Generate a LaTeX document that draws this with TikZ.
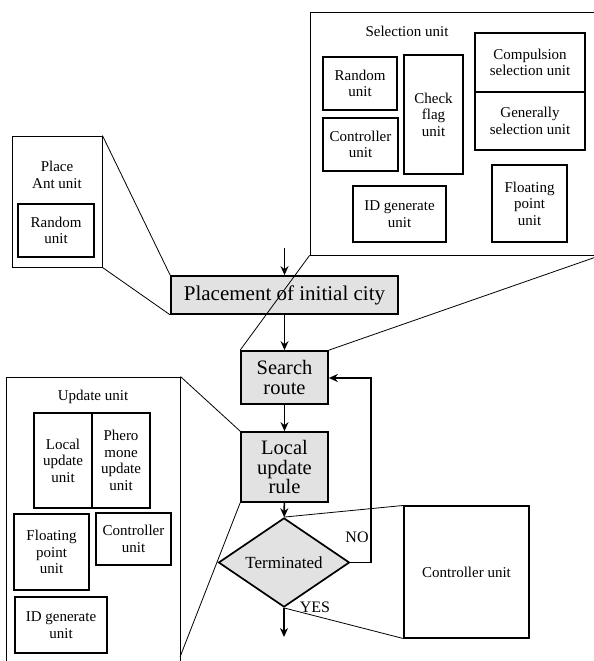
\documentclass[tikz,border=0pt]{standalone}
\usepackage{fontspec}
\setmainfont{Liberation Serif}
\usepackage{tikz}
\definecolor{shade}{RGB}{226,226,226}
\usetikzlibrary{shapes.geometric,arrows.meta}

\tikzset{
  frame/.style={draw, line width=0.9pt, inner sep=0pt},
  unitbox/.style={draw, line width=1.2pt, inner sep=0pt, align=center,
    font=\fontsize{15}{16.5}\selectfont},
  stage/.style={draw, fill=shade, line width=1.7pt, inner sep=0pt, align=center,
    font=\fontsize{20.5}{19.5}\selectfont},
  flow/.style={line width=1.6pt, -{Stealth[length=9pt,width=8pt]}},
  zoomline/.style={line width=0.8pt}
}

\begin{document}
\begin{tikzpicture}[x=1pt,y=-1pt]
        \clip (0,0) rectangle (594,661);

        \node[frame, minimum width=290pt, minimum height=243pt] (sel) at (455,133.5) {};
        \node[font=\fontsize{15}{16}\selectfont] (seltitle) at (407,31) {Selection unit};
        \node[unitbox, minimum width=74pt, minimum height=53pt] (selrand) at (360,83.5) {Random\\unit};
        \node[unitbox, minimum width=75pt, minimum height=53pt] (selctrl) at (360.5,144.5) {Controller\\unit};
        \node[unitbox, minimum width=59pt, minimum height=119pt] (selflag) at (433.5,114.5) {Check\\flag\\unit};
        \node[unitbox, minimum width=110pt, minimum height=59pt] (selcomp) at (530,62.5) {Compulsion\\selection unit};
        \node[unitbox, minimum width=110pt, minimum height=58pt] (selgen) at (530,121) {Generally\\selection unit};
        \node[unitbox, minimum width=75pt, minimum height=77pt] (selfloat) at (529.5,203.5) {Floating\\point\\unit};
        \node[unitbox, minimum width=93pt, minimum height=56pt] (selid) at (399.5,214) {ID generate\\unit};

        \node[frame, minimum width=90pt, minimum height=131pt] (ant) at (57,201.5) {};
        \node[align=center, font=\fontsize{15}{16.5}\selectfont] (anttitle) at (57,175) {Place\\Ant unit};
        \node[unitbox, minimum width=76pt, minimum height=53pt] (antrand) at (56,230.5) {Random\\unit};

        \node[frame, minimum width=174pt, minimum height=289pt] (upd) at (93,521.5) {};
        \node[font=\fontsize{15}{16}\selectfont] (updtitle) at (93,397) {Update unit};
        \node[unitbox, minimum width=58pt, minimum height=95pt] (updlocal) at (63,460.5) {Local\\update\\unit};
        \node[unitbox, minimum width=58pt, minimum height=95pt] (updphero) at (121,460.5) {Phero\\mone\\update\\unit};
        \node[unitbox, minimum width=75pt, minimum height=76pt] (updfloat) at (51.5,552) {Floating\\point\\unit};
        \node[unitbox, minimum width=75pt, minimum height=52pt] (updctrl) at (133.5,539) {Controller\\unit};
        \node[unitbox, minimum width=92pt, minimum height=56pt] (updid) at (61,625) {ID generate\\unit};

        \node[stage, minimum width=227pt, minimum height=38pt, font=\fontsize{21}{21}\selectfont] (place) at (284.5,295) {Placement of initial city};
        \node[stage, minimum width=87pt, minimum height=53pt] (search) at (284.5,377.5) {Search\\route};
        \node[stage, minimum width=87pt, minimum height=70pt] (local) at (284.5,467) {Local\\update\\rule};
        \node[diamond, draw, fill=shade, line width=1.7pt, inner sep=0pt,
              minimum width=131pt, minimum height=69pt,
              font=\fontsize{17}{17}\selectfont] (term) at (284,562.5) {Terminated};
        \node[frame, line width=1.1pt, minimum width=125pt, minimum height=132pt,
              font=\fontsize{15}{16}\selectfont] (ctrl) at (466.5,572) {Controller unit};

        \node[font=\fontsize{16}{16}\selectfont] (no) at (357,537) {NO};
        \node[font=\fontsize{16}{16}\selectfont] (yes) at (315,607) {YES};

        \coordinate (start) at (284.5,248);
        \coordinate (finish) at (284,637);
        \coordinate (back) at (371,378);
        \coordinate (updlow) at (180,657);

        \draw[flow] (start) -- (place);
        \draw[flow] (place) -- (search);
        \draw[flow] (search) -- (local);
        \draw[flow] (local) -- (term);
        \draw[flow] (term) -- (finish);
        \draw[flow] (term.east) -| (back) -- (search.east |- back);

        \draw[zoomline] (ant.north east) -- (place.north west);
        \draw[zoomline] (ant.south east) -- (place.south west);
        \draw[zoomline] (sel.south west) -- (search.north west);
        \draw[zoomline] (sel.south east) -- (search.north east);
        \draw[zoomline] (upd.north east) -- (local.north west);
        \draw[zoomline] (updlow) -- (local.south west);
        \draw[zoomline] (term.north) -- (ctrl.north west);
        \draw[zoomline] (term.south) -- (ctrl.south west);
\end{tikzpicture}
\end{document}
